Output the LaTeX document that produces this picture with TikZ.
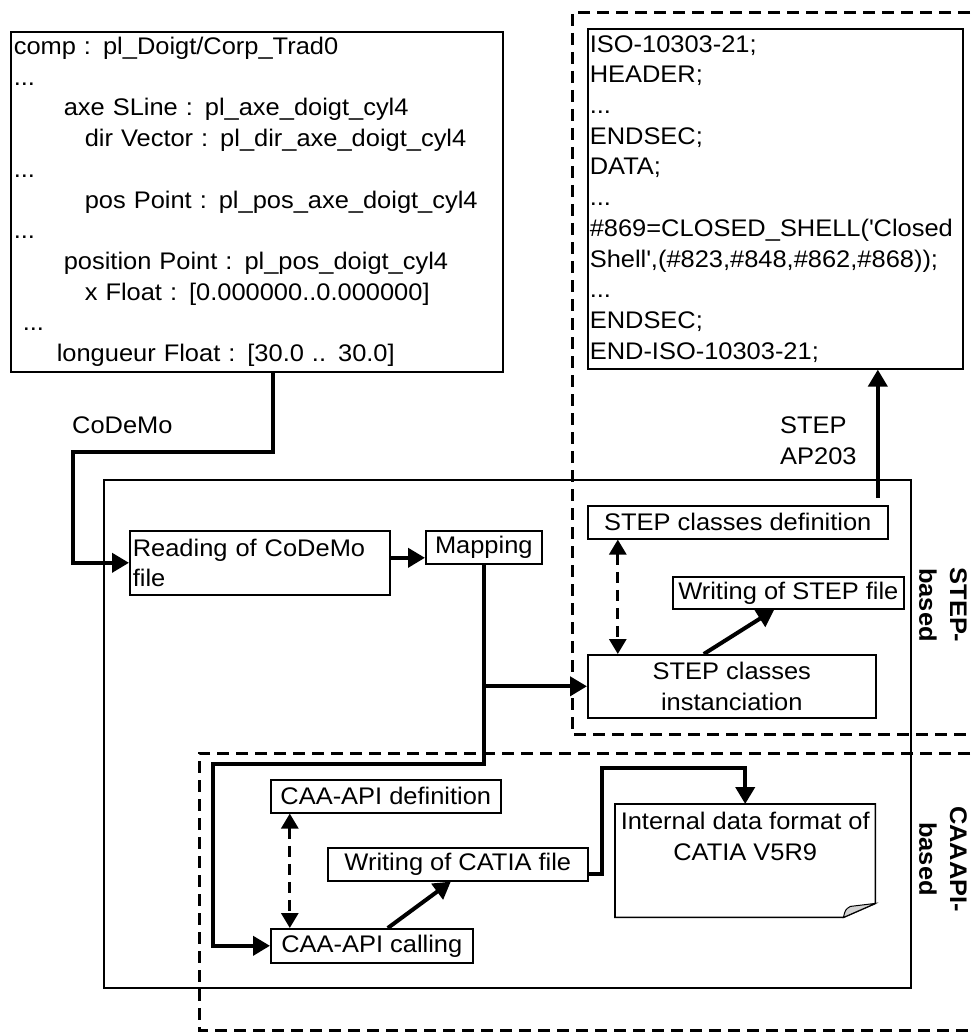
\documentclass[tikz,border=0pt]{standalone}
\usepackage{fontspec}
\setmainfont{Liberation Sans}[FakeStretch=1.06]
\usetikzlibrary{arrows.meta}
\newcommand\diagfont{\fontsize{24}{30.7}\selectfont}
\tikzset{
  block/.style={draw, line width=1.6pt, inner sep=2pt, anchor=north west},
  flow/.style={line width=4pt, -{Triangle[length=17pt,width=19pt]}},
  both/.style={line width=3pt, dash pattern=on 11pt off 7pt, {Triangle[length=15pt,width=17pt]}-{Triangle[length=15pt,width=17pt]}},
  zone/.style={line width=3pt, dash pattern=on 12pt off 7pt},
}

\begin{document}
\begin{tikzpicture}[x=1pt, y=-1pt, font=\diagfont]
\useasboundingbox (0,0) rectangle (970,1032);

% dashed zones and frame
\draw[zone] (970,13) -| (572,734) -- (970,734);
\draw[zone] (970,753) -| (199,1030) -- (970,1030);
\draw[line width=2pt] (104,480) rectangle (911,988);

% files
\node[block, minimum width=492pt, minimum height=340pt, text width=486pt, inner xsep=3pt, inner ysep=0pt, align=left] (codemo) at (10,31) {comp : pl\_Doigt/Corp\_Trad0\\
...\\
\hspace*{50pt}axe SLine : pl\_axe\_doigt\_cyl4\\
\hspace*{71pt}dir Vector : pl\_dir\_axe\_doigt\_cyl4\\
...\\
\hspace*{71pt}pos Point : pl\_pos\_axe\_doigt\_cyl4\\
...\\
\hspace*{50pt}position Point : pl\_pos\_doigt\_cyl4\\
\hspace*{71pt}x Float : [0.000000..0.000000]\\
\hspace*{9pt}...\\
\hspace*{43pt}longueur Float : [30.0 .. 30.0]};

\node[block, minimum width=375pt, minimum height=340pt, text width=371pt, inner xsep=2pt, inner ysep=0pt, align=left] (stepfile) at (587,28) {ISO-10303-21;\\
HEADER;\\
...\\
ENDSEC;\\
DATA;\\
...\\
\#869=CLOSED\_SHELL(\textquotesingle Closed\\
Shell\textquotesingle,(\#823,\#848,\#862,\#868));\\
...\\
ENDSEC;\\
END-ISO-10303-21;};

% steps
\node[block, minimum width=260pt, minimum height=64pt, text width=254pt, inner xsep=3pt, align=left] (read) at (129,530) {Reading of CoDeMo\\file};
\node[block, minimum width=116pt, minimum height=33pt] (map) at (425,530) {Mapping};
\node[block, minimum width=300pt, minimum height=33pt] (sdef) at (587,505) {STEP classes definition};
\node[block, minimum width=231pt, minimum height=32pt] (wstep) at (672,576) {Writing of STEP file};
\node[block, minimum width=288pt, minimum height=63pt, align=center] (inst) at (587,654) {STEP classes\\instanciation};
\node[block, minimum width=230pt, minimum height=33pt] (cdef) at (270,779) {CAA-API definition};
\node[block, minimum width=260pt, minimum height=33pt] (wcat) at (327,847) {Writing of CATIA file};
\node[block, minimum width=202pt, minimum height=34pt] (call) at (270,928) {CAA-API calling};

% CATIA note with folded corner
\node[minimum width=260pt, minimum height=113pt, anchor=north west, inner sep=0pt] (catia) at (615,804) {};
\draw[line width=1.6pt] (catia.north west) -- (catia.north east) -- ([yshift=14pt]catia.south east)
  -- ([xshift=-32pt]catia.south east) -- (catia.south west) -- cycle;
\filldraw[fill=gray!35, line width=1pt] ([xshift=-32pt]catia.south east)
  .. controls ([xshift=-30pt,yshift=8pt]catia.south east) .. ([xshift=-25pt,yshift=11pt]catia.south east)
  -- ([yshift=14pt]catia.south east) -- cycle;
\node[anchor=north, align=center, inner sep=0pt] (catiatext) at ([yshift=-8pt]catia.north) {Internal data format of\\CATIA V5R9};

% labels
\node[anchor=base west, inner sep=0pt] (codemolbl) at (72,433) {CoDeMo};
\node[anchor=west, align=left, inner sep=0pt] (aplbl) at (780,441) {STEP\\AP203};
\node[rotate=-90, align=center, font=\diagfont\bfseries, inner sep=0pt] (steplbl) at (943,605) {STEP-\\based};
\node[rotate=-90, align=center, font=\diagfont\bfseries, inner sep=0pt] (caalbl) at (943,859) {CAAAPI-\\based};

% connectors
\coordinate (codemobend) at (73,452);
\draw[flow] ([xshift=16pt]codemo.south) |- (codemobend) |- (read.west);
\coordinate (r1) at ([yshift=5pt]read.east);
\draw[flow] (r1) -- (r1 -| map.west);
\draw[flow] (map.south) |- (inst.west);
\coordinate (caabend) at (213,764);
\draw[flow] (map.south) |- (caabend) |- (call.west);
\draw[both] ([xshift=-120pt]sdef.south) -- ([xshift=-114pt]inst.north);
\draw[flow] ([xshift=-28pt]inst.north) -- ([xshift=-14pt]wstep.south);
\coordinate (sdefout) at ([xshift=140pt,yshift=7pt]sdef.north);
\draw[flow] (sdefout) -- (sdefout |- stepfile.south);
\draw[both] ([xshift=-96pt]cdef.south) -- ([xshift=-82pt]call.north);
\draw[flow] ([xshift=16pt]call.north) -- ([xshift=-7pt]wcat.south);
\coordinate (catbend) at (602,768);
\draw[flow] ([yshift=-10pt]wcat.east) -| (catbend) -| (catia.north);
\end{tikzpicture}
\end{document}
